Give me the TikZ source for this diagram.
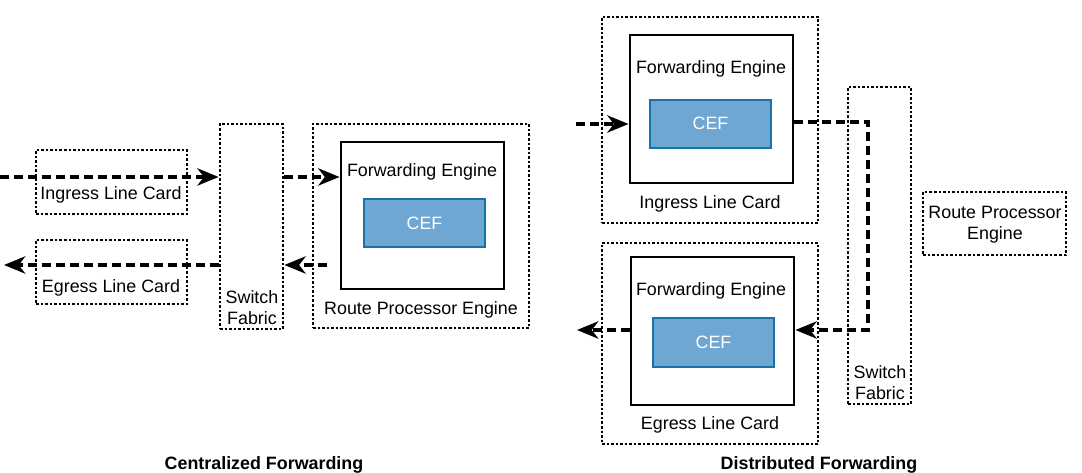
\documentclass[tikz,border=0pt]{standalone}
\usepackage{fontspec}
\setmainfont{Liberation Sans}
\usetikzlibrary{arrows.meta, fit}

\definecolor{cefblue}{RGB}{111,166,210}
\definecolor{cefline}{RGB}{24,112,172}

\begin{document}
\begin{tikzpicture}[x=0.75pt, y=-0.75pt,
	card/.style={draw=black, line width=2.1pt, dash pattern=on 1.9pt off 1.5pt, inner sep=0},
	engine/.style={draw=black, line width=2.2pt, inner sep=0},
	cef/.style={draw=cefline, fill=cefblue, line width=1.6pt, inner sep=0},
	flow/.style={-{Stealth[length=16pt, width=13pt, inset=5pt]}, line width=2.3pt, dash pattern=on 6.5pt off 4pt},
	lbl/.style={anchor=base, inner sep=0, align=center},
	title/.style={anchor=base, inner sep=0, font=\fontsize{13.4}{16.2}\selectfont\bfseries},
	every node/.style={font=\fontsize{13.4}{16.2}\selectfont}
	]
	\useasboundingbox (0,0) rectangle (1082,473);

	% centralized forwarding
	\node[card, fit={(36,150) (187,214)}] (ingC) {};
	\node[lbl] (ingCt) at (111,200) {Ingress Line Card};
	\node[card, fit={(36,240) (187,304)}] (egrC) {};
	\node[lbl] (egrCt) at (111,293) {Egress Line Card};
	\node[card, fit={(220,124) (283,329)}] (swC) {};
	\node[lbl] (swCt) at (252,325) {Switch\\Fabric};
	\node[card, fit={(313,124) (529,328)}] (rpC) {};
	\node[lbl] (rpCt) at (421,315) {Route Processor Engine};
	\node[engine, fit={(341,142) (504,289)}] (feC) {};
	\node[lbl] (feCt) at (422,177) {Forwarding Engine};
	\node[cef, fit={(364,199) (485,247)}] (cefC) {};
	\node[lbl, text=white] (cefCt) at (cefC.center |- 0,230) {CEF};

	\coordinate (srcC) at (0,177);
	\draw[flow] (srcC) -- (srcC -| swC.west);
	\draw[flow] (srcC -| swC.east) -- (srcC -| feC.west);
	\coordinate (retC) at (327,265);
	\coordinate (dstC) at (4,265);
	\draw[flow] (retC) -- (retC -| swC.east);
	\draw[flow] (retC -| swC.west) -- (dstC);

	% distributed forwarding
	\node[card, fit={(602,17) (818,223)}] (ingD) {};
	\node[lbl] (ingDt) at (710,209) {Ingress Line Card};
	\node[engine, fit={(630,35) (793,183)}] (feDi) {};
	\node[lbl] (feDit) at (711,74) {Forwarding Engine};
	\node[cef, fit={(650,100) (771,148)}] (cefDi) {};
	\node[lbl, text=white] (cefDit) at (cefDi.center |- 0,130) {CEF};

	\node[card, fit={(602,243) (818,444)}] (egrD) {};
	\node[lbl] (egrDt) at (710,430) {Egress Line Card};
	\node[engine, fit={(631,257) (794,405)}] (feDe) {};
	\node[lbl] (feDet) at (711,296) {Forwarding Engine};
	\node[cef, fit={(653,318) (774,367)}] (cefDe) {};
	\node[lbl, text=white] (cefDet) at (cefDe.center |- 0,349) {CEF};

	\node[card, fit={(848,87) (911,404)}] (swD) {};
	\node[lbl] (swDt) at (880,400) {Switch\\Fabric};
	\node[card, fit={(923,192) (1066,255)}] (rpD) {};
	\node[lbl] (rpDt) at (995,240) {Route Processor\\Engine};

	\coordinate (srcD) at (576,124);
	\draw[flow] (srcD) -- (srcD -| feDi.west);
	\coordinate (turnD) at (868,122);
	\coordinate (dstD) at (577,330);
	\draw[flow] (turnD -| feDi.east) -- (turnD) -- (turnD |- dstD) -- (dstD -| feDe.east);
	\draw[flow] (dstD -| feDe.west) -- (dstD);

	\node[title] (titleC) at (264,470) {Centralized Forwarding};
	\node[title] (titleD) at (819,470) {Distributed Forwarding};
\end{tikzpicture}
\end{document}
